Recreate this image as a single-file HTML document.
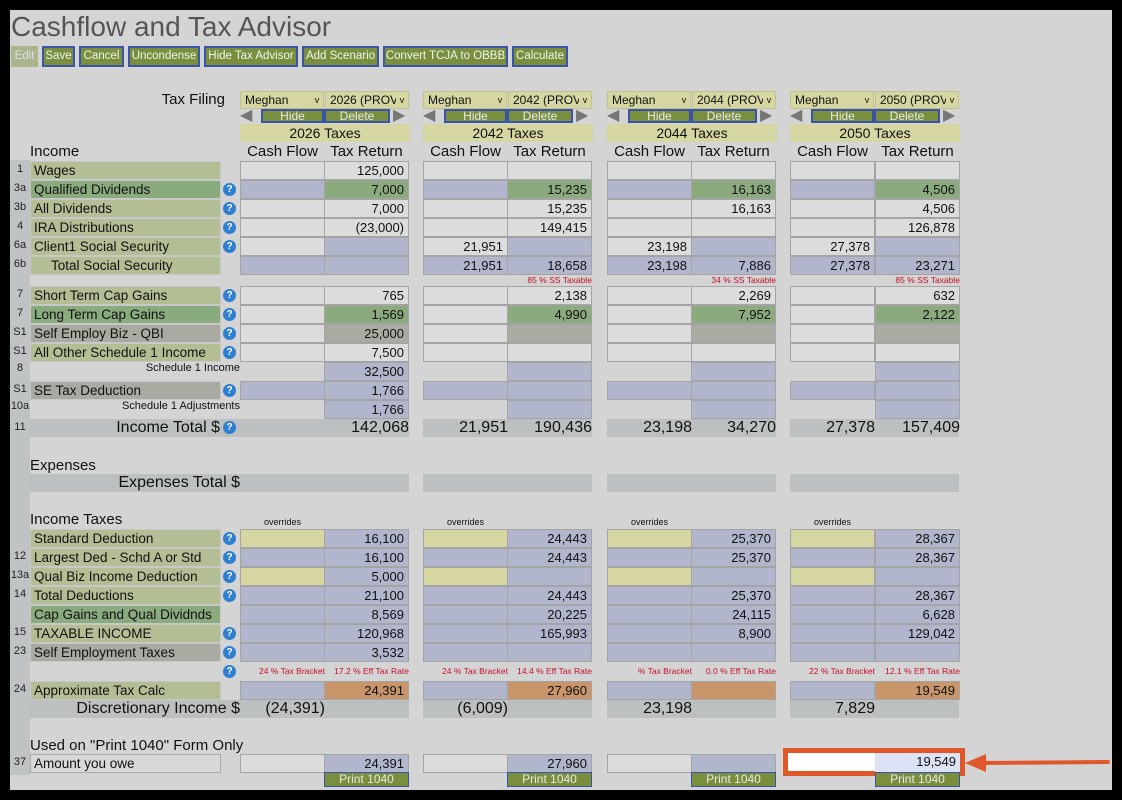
<!DOCTYPE html>
<html><head><meta charset="utf-8"><style>
*{margin:0;padding:0}
body{width:1122px;height:800px;background:#000;position:relative;overflow:hidden;font-family:"Liberation Sans",sans-serif;color:#111}
#pg{position:absolute;left:10px;top:10px;width:1102px;height:780px;background:#d4d4d4}
.a{position:absolute;white-space:nowrap}
.stripe{position:absolute;left:10px;top:160px;width:20px;height:615px;background:#bfc3c3}
.c{position:absolute;width:85px;height:19px;box-sizing:border-box;border:1px solid #a4a4a4;font-size:13px;text-align:right;padding-right:4px;line-height:17px;white-space:nowrap}
.l{background:#dcdcdc}.b{background:#b1b6cd}.g{background:#8bab7f}.y{background:#d6d6a2}.o{background:#c9956a}.s{background:#a9aba3}
.lb{position:absolute;left:30px;width:191px;height:19px;box-sizing:border-box;border:1px solid #c8c8c8;font-size:13.5px;line-height:17px;padding-left:3px;white-space:nowrap}
.lo{background:#b4be94}.lg{background:#8aab7e}.ls{background:#a9aba2}.lw{background:#d8d8d8;border-color:#aaa}
.n{position:absolute;left:10px;width:20px;font-size:11px;text-align:center;color:#222}
.q{position:absolute;left:223px;width:13px;height:13px;border-radius:50%;background:#2f7fd0;color:#fff;font-size:10px;font-weight:bold;text-align:center;line-height:13px}
.btn{position:absolute;top:46px;height:21px;box-sizing:border-box;border:2px solid #3a55a8;background:#7a8f3e;color:#f2f2f2;font-size:11.5px;line-height:17px;text-align:center;white-space:nowrap;overflow:hidden}
.bar{position:absolute;height:18px;background:#bcc0c0}
.sec{position:absolute;left:30px;font-size:15px;white-space:nowrap}
.hd{position:absolute;font-size:15px;width:85px;text-align:center;white-space:nowrap}
.sel{position:absolute;height:18px;width:84px;box-sizing:border-box;background:#d6d6a2;border:1px solid #c0c090;font-size:12px;line-height:16px;padding-left:4px;white-space:nowrap;overflow:hidden}
.sel span{position:absolute;right:0;top:0;width:12px;background:#d6d6a2;font-size:9px;text-align:center}
.sb{position:absolute;height:14px;top:109px;box-sizing:border-box;border:2px solid #3a55a8;background:#7a8f3e;color:#e8e8e8;font-size:12px;line-height:10px;text-align:center}
.ar{position:absolute;top:110px;width:18px;height:12px;color:#777;font-size:16px;line-height:12px}
.tx{position:absolute;top:124px;height:18px;width:170px;background:#d6d6a2;font-size:14px;text-align:center;line-height:18px}
.red{position:absolute;width:85px;text-align:right;color:#c4102a;font-size:8.5px;white-space:nowrap}
.ov{position:absolute;top:517px;font-size:9px;width:85px;text-align:center}
.big{position:absolute;font-size:16px;text-align:right;width:85px;line-height:18px}
.pr{position:absolute;top:772px;width:85px;height:15px;box-sizing:border-box;border:1px solid #3a55a8;background:#7a8f3e;color:#e8e8e8;font-size:12px;text-align:center;line-height:13px}
.sm{position:absolute;font-size:11px;text-align:right;white-space:nowrap}
</style></head><body>
<div id="pg"></div>
<div class="stripe"></div>
<div class="a" style="left:11px;top:11px;font-size:28px;color:#555">Cashflow and Tax Advisor</div>
<div class="btn" style="left:11px;width:27px;background:#a9b68c;border-color:#a9b68c;color:#dde">Edit</div>
<div class="btn" style="left:42px;width:33px">Save</div>
<div class="btn" style="left:79px;width:45px">Cancel</div>
<div class="btn" style="left:128px;width:72px">Uncondense</div>
<div class="btn" style="left:204px;width:94px">Hide Tax Advisor</div>
<div class="btn" style="left:302px;width:77px">Add Scenario</div>
<div class="btn" style="left:383px;width:125px">Convert TCJA to OBBB</div>
<div class="btn" style="left:512px;width:56px">Calculate</div>

<div class="a" style="left:100px;width:125px;text-align:right;top:91px;font-size:15px">Tax Filing</div>

<div class="sel" style="left:240px;top:91px">Meghan<span>v</span></div><div class="sel" style="left:325px;top:91px">2026 (PROV)<span>v</span></div>
<div class="ar" style="left:240px">◀</div><div class="sb" style="left:261px;width:63px">Hide</div><div class="sb" style="left:324px;width:66px">Delete</div><div class="ar" style="left:393px">▶</div>
<div class="tx" style="left:240px">2026 Taxes</div>
<div class="sel" style="left:423px;top:91px">Meghan<span>v</span></div><div class="sel" style="left:508px;top:91px">2042 (PROV)<span>v</span></div>
<div class="ar" style="left:423px">◀</div><div class="sb" style="left:444px;width:63px">Hide</div><div class="sb" style="left:507px;width:66px">Delete</div><div class="ar" style="left:576px">▶</div>
<div class="tx" style="left:423px">2042 Taxes</div>
<div class="sel" style="left:607px;top:91px">Meghan<span>v</span></div><div class="sel" style="left:692px;top:91px">2044 (PROV)<span>v</span></div>
<div class="ar" style="left:607px">◀</div><div class="sb" style="left:628px;width:63px">Hide</div><div class="sb" style="left:691px;width:66px">Delete</div><div class="ar" style="left:760px">▶</div>
<div class="tx" style="left:607px">2044 Taxes</div>
<div class="sel" style="left:790px;top:91px">Meghan<span>v</span></div><div class="sel" style="left:875px;top:91px">2050 (PROV)<span>v</span></div>
<div class="ar" style="left:790px">◀</div><div class="sb" style="left:811px;width:63px">Hide</div><div class="sb" style="left:874px;width:66px">Delete</div><div class="ar" style="left:943px">▶</div>
<div class="tx" style="left:790px">2050 Taxes</div>

<div class="sec" style="top:143px">Income</div>
<div class="hd" style="left:240px;top:143px">Cash Flow</div><div class="hd" style="left:324px;top:143px">Tax Return</div>
<div class="hd" style="left:423px;top:143px">Cash Flow</div><div class="hd" style="left:507px;top:143px">Tax Return</div>
<div class="hd" style="left:607px;top:143px">Cash Flow</div><div class="hd" style="left:691px;top:143px">Tax Return</div>
<div class="hd" style="left:790px;top:143px">Cash Flow</div><div class="hd" style="left:875px;top:143px">Tax Return</div>

<div class="n" style="top:163px">1</div><div class="lb lo" style="top:161px">Wages</div>
<div class="n" style="top:182px">3a</div><div class="lb lg" style="top:180px">Qualified Dividends</div><div class="q" style="top:183px">?</div>
<div class="n" style="top:201px">3b</div><div class="lb lo" style="top:199px">All Dividends</div><div class="q" style="top:202px">?</div>
<div class="n" style="top:220px">4</div><div class="lb lo" style="top:218px">IRA Distributions</div><div class="q" style="top:221px">?</div>
<div class="n" style="top:239px">6a</div><div class="lb lo" style="top:237px">Client1 Social Security</div><div class="q" style="top:240px">?</div>
<div class="n" style="top:258px">6b</div><div class="lb lo" style="top:256px;padding-left:20px">Total Social Security</div>
<div class="n" style="top:288px">7</div><div class="lb lo" style="top:286px">Short Term Cap Gains</div><div class="q" style="top:289px">?</div>
<div class="n" style="top:307px">7</div><div class="lb lg" style="top:305px">Long Term Cap Gains</div><div class="q" style="top:308px">?</div>
<div class="n" style="top:326px">S1</div><div class="lb ls" style="top:324px">Self Employ Biz - QBI</div><div class="q" style="top:327px">?</div>
<div class="n" style="top:345px">S1</div><div class="lb lo" style="top:343px">All Other Schedule 1 Income</div><div class="q" style="top:346px">?</div>
<div class="n" style="top:362px">8</div><div class="sm" style="left:60px;width:180px;top:362px">Schedule 1 Income</div>
<div class="n" style="top:383px">S1</div><div class="lb ls" style="top:381px">SE Tax Deduction</div><div class="q" style="top:384px">?</div>
<div class="n" style="top:400px">10a</div><div class="sm" style="left:60px;width:180px;top:400px">Schedule 1 Adjustments</div>
<div class="n" style="top:421px">11</div>

<div class="bar" style="left:30px;top:419px;width:379px"></div>
<div class="bar" style="left:423px;top:419px;width:169px"></div>
<div class="bar" style="left:607px;top:419px;width:169px"></div>
<div class="bar" style="left:790px;top:419px;width:169px"></div>
<div class="a" style="left:60px;width:160px;text-align:right;top:419px;font-size:16px">Income Total $</div><div class="q" style="top:421px">?</div>

<div class="c l" style="left:240px;top:161px"></div><div class="c l" style="left:324px;top:161px">125,000</div>
<div class="c b" style="left:240px;top:180px"></div><div class="c g" style="left:324px;top:180px">7,000</div>
<div class="c l" style="left:240px;top:199px"></div><div class="c l" style="left:324px;top:199px">7,000</div>
<div class="c l" style="left:240px;top:218px"></div><div class="c l" style="left:324px;top:218px">(23,000)</div>
<div class="c l" style="left:240px;top:237px"></div><div class="c b" style="left:324px;top:237px"></div>
<div class="c b" style="left:240px;top:256px"></div><div class="c b" style="left:324px;top:256px"></div>
<div class="c l" style="left:240px;top:286px"></div><div class="c l" style="left:324px;top:286px">765</div>
<div class="c l" style="left:240px;top:305px"></div><div class="c g" style="left:324px;top:305px">1,569</div>
<div class="c l" style="left:240px;top:324px"></div><div class="c s" style="left:324px;top:324px">25,000</div>
<div class="c l" style="left:240px;top:343px"></div><div class="c l" style="left:324px;top:343px">7,500</div>
<div class="c b" style="left:324px;top:362px">32,500</div>
<div class="c b" style="left:240px;top:381px"></div><div class="c b" style="left:324px;top:381px">1,766</div>
<div class="c b" style="left:324px;top:400px">1,766</div>
<div class="big" style="left:324px;top:419px">142,068</div>

<div class="c l" style="left:423px;top:161px"></div><div class="c l" style="left:507px;top:161px"></div>
<div class="c b" style="left:423px;top:180px"></div><div class="c g" style="left:507px;top:180px">15,235</div>
<div class="c l" style="left:423px;top:199px"></div><div class="c l" style="left:507px;top:199px">15,235</div>
<div class="c l" style="left:423px;top:218px"></div><div class="c l" style="left:507px;top:218px">149,415</div>
<div class="c l" style="left:423px;top:237px">21,951</div><div class="c b" style="left:507px;top:237px"></div>
<div class="c b" style="left:423px;top:256px">21,951</div><div class="c b" style="left:507px;top:256px">18,658</div>
<div class="red" style="left:507px;top:275px">85 % SS Taxable</div>
<div class="c l" style="left:423px;top:286px"></div><div class="c l" style="left:507px;top:286px">2,138</div>
<div class="c l" style="left:423px;top:305px"></div><div class="c g" style="left:507px;top:305px">4,990</div>
<div class="c l" style="left:423px;top:324px"></div><div class="c s" style="left:507px;top:324px"></div>
<div class="c l" style="left:423px;top:343px"></div><div class="c l" style="left:507px;top:343px"></div>
<div class="c b" style="left:507px;top:362px"></div>
<div class="c b" style="left:423px;top:381px"></div><div class="c b" style="left:507px;top:381px"></div>
<div class="c b" style="left:507px;top:400px"></div>
<div class="big" style="left:423px;top:419px">21,951</div><div class="big" style="left:507px;top:419px">190,436</div>

<div class="c l" style="left:607px;top:161px"></div><div class="c l" style="left:691px;top:161px"></div>
<div class="c b" style="left:607px;top:180px"></div><div class="c g" style="left:691px;top:180px">16,163</div>
<div class="c l" style="left:607px;top:199px"></div><div class="c l" style="left:691px;top:199px">16,163</div>
<div class="c l" style="left:607px;top:218px"></div><div class="c l" style="left:691px;top:218px"></div>
<div class="c l" style="left:607px;top:237px">23,198</div><div class="c b" style="left:691px;top:237px"></div>
<div class="c b" style="left:607px;top:256px">23,198</div><div class="c b" style="left:691px;top:256px">7,886</div>
<div class="red" style="left:691px;top:275px">34 % SS Taxable</div>
<div class="c l" style="left:607px;top:286px"></div><div class="c l" style="left:691px;top:286px">2,269</div>
<div class="c l" style="left:607px;top:305px"></div><div class="c g" style="left:691px;top:305px">7,952</div>
<div class="c l" style="left:607px;top:324px"></div><div class="c s" style="left:691px;top:324px"></div>
<div class="c l" style="left:607px;top:343px"></div><div class="c l" style="left:691px;top:343px"></div>
<div class="c b" style="left:691px;top:362px"></div>
<div class="c b" style="left:607px;top:381px"></div><div class="c b" style="left:691px;top:381px"></div>
<div class="c b" style="left:691px;top:400px"></div>
<div class="big" style="left:607px;top:419px">23,198</div><div class="big" style="left:691px;top:419px">34,270</div>

<div class="c l" style="left:790px;top:161px"></div><div class="c l" style="left:875px;top:161px"></div>
<div class="c b" style="left:790px;top:180px"></div><div class="c g" style="left:875px;top:180px">4,506</div>
<div class="c l" style="left:790px;top:199px"></div><div class="c l" style="left:875px;top:199px">4,506</div>
<div class="c l" style="left:790px;top:218px"></div><div class="c l" style="left:875px;top:218px">126,878</div>
<div class="c l" style="left:790px;top:237px">27,378</div><div class="c b" style="left:875px;top:237px"></div>
<div class="c b" style="left:790px;top:256px">27,378</div><div class="c b" style="left:875px;top:256px">23,271</div>
<div class="red" style="left:875px;top:275px">85 % SS Taxable</div>
<div class="c l" style="left:790px;top:286px"></div><div class="c l" style="left:875px;top:286px">632</div>
<div class="c l" style="left:790px;top:305px"></div><div class="c g" style="left:875px;top:305px">2,122</div>
<div class="c l" style="left:790px;top:324px"></div><div class="c s" style="left:875px;top:324px"></div>
<div class="c l" style="left:790px;top:343px"></div><div class="c l" style="left:875px;top:343px"></div>
<div class="c b" style="left:875px;top:362px"></div>
<div class="c b" style="left:790px;top:381px"></div><div class="c b" style="left:875px;top:381px"></div>
<div class="c b" style="left:875px;top:400px"></div>
<div class="big" style="left:790px;top:419px">27,378</div><div class="big" style="left:875px;top:419px">157,409</div>

<div class="sec" style="top:457px">Expenses</div>
<div class="bar" style="left:30px;top:474px;width:379px"></div>
<div class="bar" style="left:423px;top:474px;width:169px"></div>
<div class="bar" style="left:607px;top:474px;width:169px"></div>
<div class="bar" style="left:790px;top:474px;width:169px"></div>
<div class="a" style="left:60px;width:180px;text-align:right;top:474px;font-size:16px">Expenses Total $</div>

<div class="sec" style="top:511px">Income Taxes</div>
<div class="ov" style="left:240px">overrides</div><div class="ov" style="left:423px">overrides</div><div class="ov" style="left:607px">overrides</div><div class="ov" style="left:790px">overrides</div>
<div class="lb lo" style="top:529px">Standard Deduction</div><div class="q" style="top:532px">?</div>
<div class="n" style="top:550px">12</div><div class="lb lo" style="top:548px">Largest Ded - Schd A or Std</div><div class="q" style="top:551px">?</div>
<div class="n" style="top:569px">13a</div><div class="lb lo" style="top:567px">Qual Biz Income Deduction</div><div class="q" style="top:570px">?</div>
<div class="n" style="top:588px">14</div><div class="lb lo" style="top:586px">Total Deductions</div><div class="q" style="top:589px">?</div>
<div class="lb lg" style="top:605px">Cap Gains and Qual Dividnds</div>
<div class="n" style="top:626px">15</div><div class="lb lo" style="top:624px">TAXABLE INCOME</div><div class="q" style="top:627px">?</div>
<div class="n" style="top:645px">23</div><div class="lb ls" style="top:643px">Self Employment Taxes</div><div class="q" style="top:646px">?</div>
<div class="q" style="top:665px">?</div>
<div class="n" style="top:683px">24</div><div class="lb lo" style="top:681px">Approximate Tax Calc</div>
<div class="bar" style="left:30px;top:700px;width:379px"></div>
<div class="bar" style="left:423px;top:700px;width:169px"></div>
<div class="bar" style="left:607px;top:700px;width:169px"></div>
<div class="bar" style="left:790px;top:700px;width:169px"></div>
<div class="a" style="left:60px;width:180px;text-align:right;top:700px;font-size:16px">Discretionary Income $</div>

<div class="c y" style="left:240px;top:529px"></div><div class="c b" style="left:324px;top:529px">16,100</div>
<div class="c b" style="left:240px;top:548px"></div><div class="c b" style="left:324px;top:548px">16,100</div>
<div class="c y" style="left:240px;top:567px"></div><div class="c b" style="left:324px;top:567px">5,000</div>
<div class="c b" style="left:240px;top:586px"></div><div class="c b" style="left:324px;top:586px">21,100</div>
<div class="c b" style="left:240px;top:605px"></div><div class="c b" style="left:324px;top:605px">8,569</div>
<div class="c b" style="left:240px;top:624px"></div><div class="c b" style="left:324px;top:624px">120,968</div>
<div class="c b" style="left:240px;top:643px"></div><div class="c b" style="left:324px;top:643px">3,532</div>
<div class="red" style="left:240px;top:666px">24 % Tax Bracket</div><div class="red" style="left:324px;top:666px">17.2 % Eff Tax Rate</div>
<div class="c b" style="left:240px;top:681px"></div><div class="c o" style="left:324px;top:681px">24,391</div>
<div class="big" style="left:240px;top:700px">(24,391)</div>

<div class="c y" style="left:423px;top:529px"></div><div class="c b" style="left:507px;top:529px">24,443</div>
<div class="c b" style="left:423px;top:548px"></div><div class="c b" style="left:507px;top:548px">24,443</div>
<div class="c y" style="left:423px;top:567px"></div><div class="c b" style="left:507px;top:567px"></div>
<div class="c b" style="left:423px;top:586px"></div><div class="c b" style="left:507px;top:586px">24,443</div>
<div class="c b" style="left:423px;top:605px"></div><div class="c b" style="left:507px;top:605px">20,225</div>
<div class="c b" style="left:423px;top:624px"></div><div class="c b" style="left:507px;top:624px">165,993</div>
<div class="c b" style="left:423px;top:643px"></div><div class="c b" style="left:507px;top:643px"></div>
<div class="red" style="left:423px;top:666px">24 % Tax Bracket</div><div class="red" style="left:507px;top:666px">14.4 % Eff Tax Rate</div>
<div class="c b" style="left:423px;top:681px"></div><div class="c o" style="left:507px;top:681px">27,960</div>
<div class="big" style="left:423px;top:700px">(6,009)</div>

<div class="c y" style="left:607px;top:529px"></div><div class="c b" style="left:691px;top:529px">25,370</div>
<div class="c b" style="left:607px;top:548px"></div><div class="c b" style="left:691px;top:548px">25,370</div>
<div class="c y" style="left:607px;top:567px"></div><div class="c b" style="left:691px;top:567px"></div>
<div class="c b" style="left:607px;top:586px"></div><div class="c b" style="left:691px;top:586px">25,370</div>
<div class="c b" style="left:607px;top:605px"></div><div class="c b" style="left:691px;top:605px">24,115</div>
<div class="c b" style="left:607px;top:624px"></div><div class="c b" style="left:691px;top:624px">8,900</div>
<div class="c b" style="left:607px;top:643px"></div><div class="c b" style="left:691px;top:643px"></div>
<div class="red" style="left:607px;top:666px">% Tax Bracket</div><div class="red" style="left:691px;top:666px">0.0 % Eff Tax Rate</div>
<div class="c b" style="left:607px;top:681px"></div><div class="c o" style="left:691px;top:681px"></div>
<div class="big" style="left:607px;top:700px">23,198</div>

<div class="c y" style="left:790px;top:529px"></div><div class="c b" style="left:875px;top:529px">28,367</div>
<div class="c b" style="left:790px;top:548px"></div><div class="c b" style="left:875px;top:548px">28,367</div>
<div class="c y" style="left:790px;top:567px"></div><div class="c b" style="left:875px;top:567px"></div>
<div class="c b" style="left:790px;top:586px"></div><div class="c b" style="left:875px;top:586px">28,367</div>
<div class="c b" style="left:790px;top:605px"></div><div class="c b" style="left:875px;top:605px">6,628</div>
<div class="c b" style="left:790px;top:624px"></div><div class="c b" style="left:875px;top:624px">129,042</div>
<div class="c b" style="left:790px;top:643px"></div><div class="c b" style="left:875px;top:643px"></div>
<div class="red" style="left:790px;top:666px">22 % Tax Bracket</div><div class="red" style="left:875px;top:666px">12.1 % Eff Tax Rate</div>
<div class="c b" style="left:790px;top:681px"></div><div class="c o" style="left:875px;top:681px">19,549</div>
<div class="big" style="left:790px;top:700px">7,829</div>

<div class="sec" style="top:737px">Used on "Print 1040" Form Only</div>
<div class="n" style="top:756px">37</div><div class="lb lw" style="top:754px">Amount you owe</div>
<div class="c l" style="left:240px;top:754px"></div><div class="c b" style="left:324px;top:754px">24,391</div><div class="pr" style="left:324px">Print 1040</div>
<div class="c l" style="left:423px;top:754px"></div><div class="c b" style="left:507px;top:754px">27,960</div><div class="pr" style="left:507px">Print 1040</div>
<div class="c l" style="left:607px;top:754px"></div><div class="c b" style="left:691px;top:754px"></div><div class="pr" style="left:691px">Print 1040</div>
<div class="a" style="left:783px;top:748px;width:182px;height:28px;box-sizing:border-box;border:5px solid #e0582a;background:#fff"></div>
<div class="c" style="left:875px;top:753px;width:85px;background:#dde2f4;border:none">19,549</div>
<div class="pr" style="left:875px">Print 1040</div>
<svg class="a" style="left:960px;top:750px" width="155" height="26"><line x1="18" y1="13" x2="148" y2="12" stroke="#e0582a" stroke-width="4" stroke-linecap="round"/><polygon points="5,13 26,4 26,22" fill="#e0582a"/></svg>
</body></html>
